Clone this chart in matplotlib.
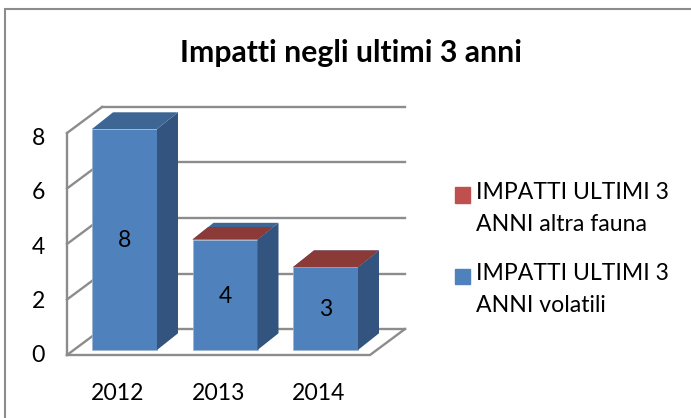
import matplotlib
matplotlib.use("Agg")
import matplotlib.pyplot as plt
from matplotlib.legend_handler import HandlerPatch
from matplotlib.lines import Line2D
from matplotlib.patches import Polygon, Patch, Rectangle
from matplotlib.transforms import ScaledTranslation

categories = ["2012", "2013", "2014"]
volatili = [8, 4, 3]
altra_fauna = [0, 0, 0]
y_ticks = [0, 2, 4, 6, 8]
title = "Impatti negli ultimi 3 anni"
label_altra = "IMPATTI ULTIMI 3\nANNI altra fauna"
label_volatili = "IMPATTI ULTIMI 3\nANNI volatili"

W, H, DPI = 691, 418, 100
FONT = "Lato"
BLUE, BLUE_SIDE, BLUE_TOP = "#4f81bd", "#33547e", "#3d6695"
RED, RED_TOP = "#c0504d", "#8c3a38"
GRID = "#8c8c8c"

plt.rcParams["font.family"] = [FONT, "DejaVu Sans"]
fig = plt.figure(figsize=(W / DPI, H / DPI), dpi=DPI, facecolor="white")

# Axes box in pixels, the y scale is that of the bars' front faces
L, R, T, B = 67, 405, 108, 355
ax = fig.add_axes([L / W, 1 - B / H, (R - L) / W, (B - T) / H])
PX_X, PX_Y = 100.5, 27.625          # pixels per category, per value unit
X0, Y0 = 124.5, 350                 # pixel of category 0, of value 0
ax.set_xlim((L - X0) / PX_X, (R - X0) / PX_X)
ax.set_ylim((Y0 - B) / PX_Y, (Y0 - T) / PX_Y)
ax.patch.set_visible(False)
for s in ax.spines.values():
    s.set_visible(False)

def px_dx(p):
    return p / PX_X

def px_dy(p):
    return p / PX_Y

# Walls and floor
wall_dx, wall_dy = px_dx(35), px_dy(26)
front_x0, front_x1 = ax.get_xlim()[0], px_dx(370 - X0)
front_y0 = px_dy(Y0 - 355)
front_step = (Y0 - 133 - (Y0 - 355)) / PX_Y / 8
grid_kw = dict(color=GRID, lw=1.7, solid_capstyle="projecting", zorder=1, clip_on=False)
for v in y_ticks:
    fy = front_y0 + v * front_step
    ax.plot([front_x0, front_x0 + wall_dx], [fy, fy + wall_dy], **grid_kw)
    ax.plot([front_x0 + wall_dx, front_x1 + wall_dx], [fy + wall_dy, fy + wall_dy], **grid_kw)
ax.plot([front_x0, front_x0], [front_y0, front_y0 + 8 * front_step], **grid_kw)
ax.plot([front_x0, front_x1, front_x1 + wall_dx],
        [front_y0, front_y0, front_y0 + wall_dy], **grid_kw)

# Bars
width = 65 / PX_X
depth_x, depth_y = px_dx(21), px_dy(16.7)
positions = list(range(len(categories)))
ax.bar(positions, volatili, width=width, color=BLUE, edgecolor="#9db4d0", linewidth=0.5, zorder=3)
ax.bar(positions, altra_fauna, width=width, bottom=volatili, color=RED, linewidth=0, zorder=3)
# share of each bar's top where the zero-height red series shows through
red_show = [0.0, 0.75, 1.0]
for x, v, share in zip(positions, volatili, red_show):
    x0, x1 = x - width / 2, x + width / 2
    ax.add_patch(Polygon([(x1, 0), (x1 + depth_x, depth_y), (x1 + depth_x, v + depth_y), (x1, v)],
                         closed=True, fc=BLUE_SIDE, ec="none", zorder=3))
    ax.add_patch(Polygon([(x0, v), (x1, v), (x1 + depth_x, v + depth_y), (x0 + depth_x, v + depth_y)],
                         closed=True, fc=BLUE_TOP, ec="none", zorder=3))
    if share > 0:
        ax.add_patch(Polygon([(x0, v), (x1, v), (x1 + depth_x * share, v + depth_y * share),
                              (x0 + depth_x * share, v + depth_y * share)],
                             closed=True, fc=RED_TOP, ec="none", zorder=3.1))
    ax.annotate(str(v), (x, v / 2), xytext=(0, -1), textcoords="offset points",
                ha="center", va="center", fontsize=16.6, color="black", zorder=4)

# Axis labels
ax.set_xticks(positions, categories)
ax.set_yticks(y_ticks, [str(v) for v in y_ticks])
ax.tick_params(axis="both", length=0, labelsize=16.6, colors="black")
ax.tick_params(axis="x", pad=20)
ax.tick_params(axis="y", pad=16)
for lab in ax.get_xticklabels():
    lab.set_transform(lab.get_transform() + ScaledTranslation(-6.5 / DPI, 0, fig.dpi_scale_trans))
for v, lab in zip(y_ticks, ax.get_yticklabels()):
    drop = 4 + v * 0.4
    lab.set_transform(lab.get_transform() + ScaledTranslation(0, -drop / DPI, fig.dpi_scale_trans))

# Title
fig.text(351 / W, 1 - 53 / H, title, ha="center", va="center", fontsize=21.7, fontweight="bold")

# Legend: each square sits level with the first line of its two-line label
def first_line_square(legend, orig_handle, xdescent, ydescent, width, height, fontsize):
    return Rectangle((-xdescent, -ydescent + 10), width, height)

handles = [Patch(color=RED), Patch(color=BLUE)]
leg = fig.legend(handles, [label_altra, label_volatili], loc="upper left",
                 bbox_to_anchor=(455 / W, 1 - 182 / H), frameon=False, fontsize=16.6,
                 handlelength=0.65, handleheight=0.65, handletextpad=0.25,
                 labelspacing=1.23, borderpad=0, borderaxespad=0,
                 handler_map={Patch: HandlerPatch(patch_func=first_line_square)})
for t in leg.get_texts():
    t.set_linespacing(1.65)

# Chart border: only the top and left edges are inside the picture
edge_x, edge_y = 5.5 / W, 1 - 8.5 / H
fig.add_artist(Line2D([edge_x, edge_x, 1], [0, edge_y, edge_y], transform=fig.transFigure,
                      color=GRID, lw=1.5, solid_joinstyle="miter"))

fig.savefig("out.png", dpi=DPI)
